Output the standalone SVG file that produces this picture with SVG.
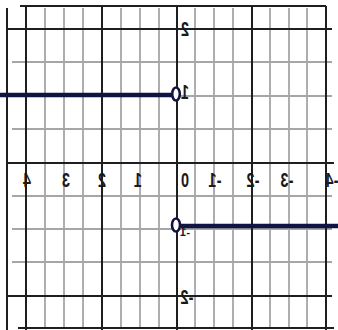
<svg xmlns="http://www.w3.org/2000/svg" width="338" height="330" viewBox="0 0 338 330">
<style>
.minor{stroke:#a6a6a6;stroke-width:1.8;fill:none}
.major{stroke:#1e1e1e;stroke-width:2;fill:none}
.plot{stroke:#0f1442;stroke-width:4.5;fill:none}
.pt{stroke:#0f1442;stroke-width:2.6;fill:#fff}
.lbl{font-family:"Liberation Sans",Arial,sans-serif;font-size:17px;font-weight:bold;fill:#1a1a1a;text-anchor:middle}
</style>
<rect width="338" height="330" fill="#fff"/>
<g id="grid">
<g class="minor">
<path d="M45 8V328M64 8V328M83 8V328M121 8V328M140 8V328M159 8V328M195 8V328M214 8V328M233 8V328M270 8V328M289 8V328M307 8V328"/>
<path d="M12 62H332M12 96H332M12 129H332M12 196H332M12 229H332M12 262H332"/>
</g>
<g class="major">
<path d="M7 8V330M26 6V330M102 6V330M177 6V330M252 6V330M326 6V330"/>
<path d="M20 6H326M8 29H332M8 163H334M8 296H332M18 328H334"/>
</g>
</g>
<g id="curves">
<path class="plot" d="M0 95H172"/>
<path class="plot" d="M181 226H338"/>
<ellipse class="pt" cx="176" cy="94" rx="3.8" ry="6.5"/>
<ellipse class="pt" cx="176" cy="225" rx="4" ry="6.5"/>
</g>
<g id="labels" class="lbl">
<text transform="translate(27 187) scale(-0.85 1.15)">4</text>
<text transform="translate(66 187) scale(-0.85 1.15)">3</text>
<text transform="translate(102 187) scale(-0.85 1.15)">2</text>
<text transform="translate(138 187) scale(-0.85 1.15)">1</text>
<text transform="translate(185 187) scale(-0.85 1.15)">0</text>
<text transform="translate(215 187) scale(-0.85 1.15)">-1</text>
<text transform="translate(253 187) scale(-0.85 1.15)">-2</text>
<text transform="translate(287 187) scale(-0.85 1.15)">-3</text>
<text transform="translate(332 187) scale(-0.85 1.15)">-4</text>
<text transform="translate(185 36) scale(-0.85 1.15)">2</text>
<text transform="translate(185 99) scale(-0.85 1.15)">1</text>
<text transform="translate(185 236) scale(-1 1)" style="font-size:11px">-1</text>
<text transform="translate(187 304) scale(-0.85 1.15)">-2</text>
</g>
</svg>
